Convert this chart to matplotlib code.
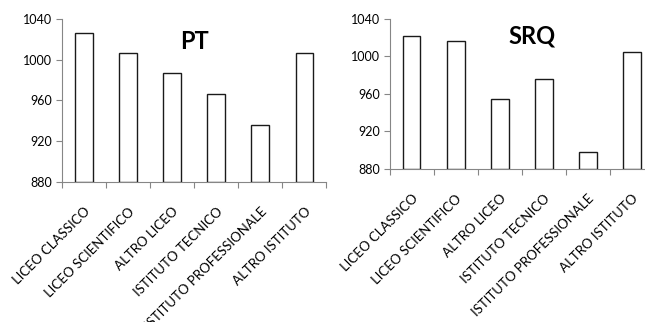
import matplotlib
matplotlib.use("Agg")
import matplotlib.pyplot as plt
import matplotlib.transforms as mtransforms
import numpy as np

plt.rcParams['font.family'] = ['Lato', 'DejaVu Sans']

categories = ["LICEO CLASSICO", "LICEO SCIENTIFICO", "ALTRO LICEO",
              "ISTITUTO TECNICO", "ISTITUTO PROFESSIONALE", "ALTRO ISTITUTO"]
pt_values = [1026, 1007, 987, 966, 936, 1007]
srq_values = [1022, 1016, 955, 976, 898, 1005]
yticks = [880, 920, 960, 1000, 1040]

fig = plt.figure(figsize=(6.45, 3.22), dpi=100)
ax1 = fig.add_axes([0.096, 0.436, 0.41, 0.505])
ax2 = fig.add_axes([0.604, 0.476, 0.41, 0.465])

spine_col = '#868686'

def style(ax, vals, title, tx, ty):
    x = np.arange(len(categories))
    ax.bar(x, [v - 880 for v in vals], bottom=880, width=0.4,
           facecolor='white', edgecolor='#1a1a1a', linewidth=1.0, zorder=3)
    ax.set_xlim(-0.5, len(categories) - 0.5)
    ax.set_ylim(880, 1040)
    ax.set_yticks(yticks)
    ax.set_yticklabels([str(t) for t in yticks], fontsize=9)
    ax.set_xticks(x)
    ax.set_xticklabels(categories, rotation=45, ha='right',
                       rotation_mode='anchor', fontsize=9.5)
    offset = mtransforms.ScaledTranslation(0.04, 0, fig.dpi_scale_trans)
    for lbl in ax.get_xticklabels():
        lbl.set_transform(lbl.get_transform() + offset)
    ax.set_xticks(np.arange(len(categories) + 1) - 0.5, minor=True)
    ax.tick_params(axis='x', which='major', length=0, pad=17)
    ax.tick_params(axis='x', which='minor', length=4, color=spine_col, width=0.8)
    ax.tick_params(axis='y', length=4, color=spine_col, width=0.8, pad=3)
    for s in ['top', 'right']:
        ax.spines[s].set_visible(False)
    for s in ['left', 'bottom']:
        ax.spines[s].set_color(spine_col)
        ax.spines[s].set_linewidth(0.8)
    ax.text(tx, ty, title, transform=ax.transAxes, ha='center', va='center',
            fontsize=17, fontweight='bold')

style(ax1, pt_values, "PT", 0.50, 0.86)
style(ax2, srq_values, "SRQ", 0.54, 0.886)

fig.savefig("out.png", dpi=100)
